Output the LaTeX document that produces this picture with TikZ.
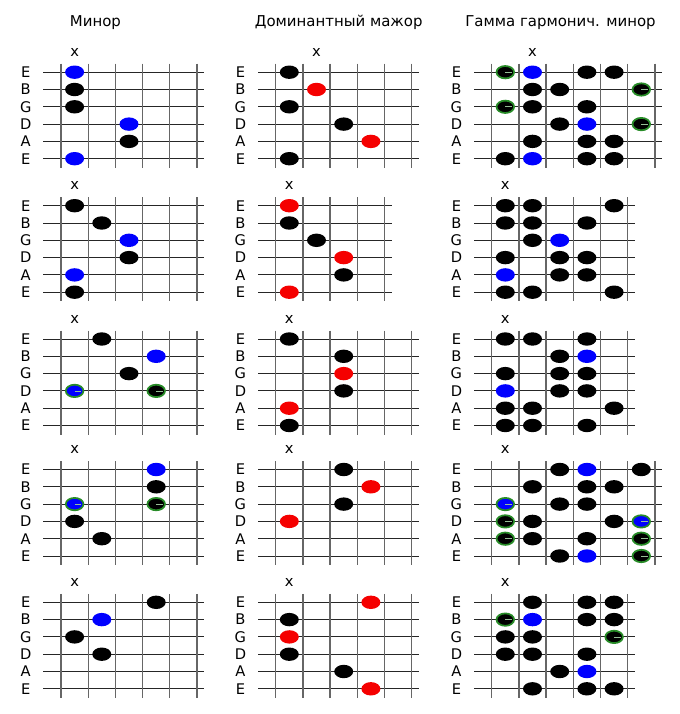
\documentclass[tikz,border=0pt]{standalone}
\usepackage{fontspec}
\setmainfont{DejaVu Sans}
\definecolor{ringgreen}{RGB}{40,140,40}
\definecolor{tickc}{RGB}{150,190,150}
\definecolor{dotblue}{RGB}{0,0,255}
\definecolor{dotred}{RGB}{245,0,0}
\tikzset{
  stringline/.style={draw=black!85, line width=0.75pt},
  fretline/.style={draw=black!60, line width=1pt},
  lbl/.style={font=\fontsize{11}{13}\selectfont, inner sep=0pt, anchor=center},
  ttl/.style={font=\fontsize{11.2}{13}\selectfont, inner sep=0pt, anchor=center},
  tickline/.style={draw=tickc, line width=0.6pt}
}
\newcommand\panel[4]{%
  \foreach \s [count=\i from 0] in {E,B,G,D,A,E}{
    \draw[stringline] ({#1-17.7},{#2+\i*17.3}) -- ({#1+(#3-1)*27.2+7},{#2+\i*17.3});
    \node[lbl] (#4s\i) at ({#1-35.3},{#2+\i*17.3}) {\s};
  }
  \foreach \k in {1,...,#3}{
    \draw[fretline] ({#1+(\k-1)*27.2},{#2-8.5}) -- ({#1+(\k-1)*27.2},{#2+5*17.3+9});
  }
}
\newcommand\fdots[4]{%
  \foreach \c/\s in {#4}{
    \fill[#1] ({#2+\c*27.2-13.6},{#3+\s*17.3}) ellipse [x radius=9.5, y radius=6.7];
  }
}
\newcommand\rdots[4]{%
  \foreach \c/\s in {#4}{
    \filldraw[fill=#1, draw=ringgreen, line width=1.3pt] ({#2+\c*27.2-13.6},{#3+\s*17.3}) ellipse [x radius=8.8, y radius=6.2];
    \draw[tickline] ({#2+\c*27.2-13.6},{#3+\s*17.3}) -- ++(6.5,0);
  }
}
\newcommand\xmark[4]{\node[lbl] (#4) at ({#1+#3*27.2-13.6},{#2-20}) {x};}
\begin{document}
\begin{tikzpicture}[x=0.75pt,y=-0.75pt]
\path[use as bounding box, fill=white] (0,0) rectangle (680,714);
\node[ttl] (t1) at (95.4,22.7) {Минор};
\node[ttl] (t2) at (338.7,22.7) {Доминантный мажор};
\node[ttl] (t3) at (560.5,22.7) {Гамма гармонич. минор};
% Row 1
\panel{61}{72.2}{6}{a}
\fdots{dotblue}{61}{72.2}{1/0,3/3,1/5}
\fdots{black}{61}{72.2}{1/1,1/2,3/4}
\xmark{61}{72.2}{1}{xa}
\panel{275.7}{72.2}{6}{b}
\fdots{black}{275.7}{72.2}{1/0,1/2,3/3,1/5}
\fdots{dotred}{275.7}{72.2}{2/1,4/4}
\xmark{275.7}{72.2}{2}{xb}
\panel{491.7}{72.2}{7}{c}
\fdots{black}{491.7}{72.2}{4/0,5/0,2/1,3/1,2/2,4/2,3/3,2/4,4/4,5/4,1/5,4/5,5/5}
\fdots{dotblue}{491.7}{72.2}{2/0,4/3,2/5}
\rdots{black}{491.7}{72.2}{1/0,6/1,1/2,6/3}
\xmark{491.7}{72.2}{2}{xc}
% Row 2
\panel{61}{205.7}{6}{d}
\fdots{black}{61}{205.7}{1/0,2/1,3/3,1/5}
\fdots{dotblue}{61}{205.7}{3/2,1/4}
\xmark{61}{205.7}{1}{xd}
\panel{275.7}{205.7}{5}{e}
\fdots{dotred}{275.7}{205.7}{1/0,3/3,1/5}
\fdots{black}{275.7}{205.7}{1/1,2/2,3/4}
\xmark{275.7}{205.7}{1}{xe}
\panel{491.7}{205.7}{6}{f}
\fdots{black}{491.7}{205.7}{1/0,2/0,5/0,1/1,2/1,4/1,2/2,1/3,3/3,4/3,3/4,4/4,1/5,2/5,5/5}
\fdots{dotblue}{491.7}{205.7}{3/2,1/4}
\xmark{491.7}{205.7}{1}{xf}
% Row 3
\panel{61}{339}{6}{g}
\fdots{black}{61}{339}{2/0,3/2}
\fdots{dotblue}{61}{339}{4/1}
\rdots{dotblue}{61}{339}{1/3}
\rdots{black}{61}{339}{4/3}
\xmark{61}{339}{1}{xg}
\panel{275.7}{339}{6}{h}
\fdots{black}{275.7}{339}{1/0,3/1,3/3,1/5}
\fdots{dotred}{275.7}{339}{3/2,1/4}
\xmark{275.7}{339}{1}{xh}
\panel{491.7}{339}{6}{i}
\fdots{black}{491.7}{339}{1/0,2/0,4/0,3/1,1/2,3/2,4/2,3/3,4/3,1/4,2/4,5/4,1/5,2/5,4/5}
\fdots{dotblue}{491.7}{339}{4/1,1/3}
\xmark{491.7}{339}{1}{xi}
% Row 4
\panel{61}{469.5}{6}{j}
\fdots{dotblue}{61}{469.5}{4/0}
\fdots{black}{61}{469.5}{4/1,1/3,2/4}
\rdots{dotblue}{61}{469.5}{1/2}
\rdots{black}{61}{469.5}{4/2}
\xmark{61}{469.5}{1}{xj}
\panel{275.7}{469.5}{6}{k}
\fdots{black}{275.7}{469.5}{3/0,3/2}
\fdots{dotred}{275.7}{469.5}{4/1,1/3}
\xmark{275.7}{469.5}{1}{xk}
\panel{491.7}{469.5}{7}{l}
\fdots{black}{491.7}{469.5}{3/0,6/0,2/1,4/1,5/1,3/2,4/2,2/3,5/3,2/4,4/4,3/5}
\fdots{dotblue}{491.7}{469.5}{4/0,4/5}
\rdots{dotblue}{491.7}{469.5}{1/2,6/3}
\rdots{black}{491.7}{469.5}{1/3,1/4,6/4,6/5}
\xmark{491.7}{469.5}{1}{xl}
% Row 5
\panel{61}{602.3}{6}{m}
\fdots{black}{61}{602.3}{4/0,1/2,2/3}
\fdots{dotblue}{61}{602.3}{2/1}
\xmark{61}{602.3}{1}{xm}
\panel{275.7}{602.3}{6}{n}
\fdots{dotred}{275.7}{602.3}{4/0,1/2,4/5}
\fdots{black}{275.7}{602.3}{1/1,1/3,3/4}
\xmark{275.7}{602.3}{1}{xn}
\panel{491.7}{602.3}{6}{o}
\fdots{black}{491.7}{602.3}{2/0,4/0,5/0,4/1,5/1,1/2,2/2,1/3,2/3,4/3,3/4,2/5,4/5,5/5}
\fdots{dotblue}{491.7}{602.3}{2/1,4/4}
\rdots{black}{491.7}{602.3}{1/1,5/2}
\xmark{491.7}{602.3}{1}{xo}
\end{tikzpicture}
\end{document}
